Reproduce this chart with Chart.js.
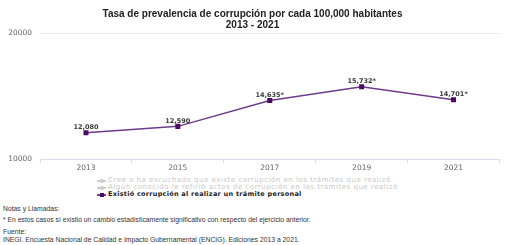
<!DOCTYPE html>
<html lang="es">
<head>
<meta charset="UTF-8">
<title>Tasa de prevalencia de corrupción</title>
<script src="https://cdn.jsdelivr.net/npm/chart.js@4.4.0/dist/chart.umd.min.js"></script>
<style>
  body { margin: 0; background: #fff; }
  .wrap { position: relative; width: 505px; height: 245px; overflow: hidden; }
  #chartBox { position: absolute; left: 0; top: 0; width: 505px; height: 174px; }
  #legend { position: absolute; left: 97px; top: 177px; font-family: "DejaVu Sans", sans-serif; font-size: 7px; line-height: 7px; letter-spacing: 0.52px; }
  #legend .item { display: flex; align-items: center; white-space: nowrap; }
  #legend .mk { position: relative; width: 9px; height: 7px; margin-right: 2px; }
  #legend .mk .ln { position: absolute; left: 0; right: 0; top: 3px; height: 1.5px; }
  #legend .mk .pt { position: absolute; left: 2.5px; top: 1.5px; width: 4.5px; height: 4.5px; }
  #legend .bold { font-weight: bold; font-size: 6.5px; letter-spacing: 0.27px; }
  .notes { position: absolute; left: 3px; font-family: "Liberation Sans", Arial, sans-serif; font-size: 6.8px; color: #333; white-space: nowrap; }
</style>
</head>
<body>
<div class="wrap">
  <div id="chartBox"><canvas id="grafica"></canvas></div>
  <div id="legend"></div>
  <div class="notes" style="top:205px">Notas y Llamadas:</div>
  <div class="notes" style="top:216px">* En estos casos sí existió un cambio estadísticamente significativo con respecto del ejercicio anterior.</div>
  <div class="notes" style="top:228px">Fuente:</div>
  <div class="notes" style="top:236px">INEGI. Encuesta Nacional de Calidad e Impacto Gubernamental (ENCIG). Ediciones 2013 a 2021.</div>
</div>
<script>
// datos
const anios = ["2013", "2015", "2017", "2019", "2021"];
const tasaTramite = [12080, 12590, 14635, 15732, 14701];
const cambioSignificativo = [false, false, true, true, true];
const seriesLeyenda = [
  "Cree o ha escuchado que existe corrupción en los trámites que realizó",
  "Algún conocido le refirió actos de corrupción en los trámites que realizó",
  "Existió corrupción al realizar un trámite personal"
];
const ticksY = [10000, 20000];

const morado = "#6e3b8c";
const moradoPunto = "#4a0d63";

// etiquetas de datos sobre cada punto
const etiquetas = {
  id: "etiquetas",
  afterDatasetsDraw(chart) {
    const ctx = chart.ctx;
    const meta = chart.getDatasetMeta(0);
    ctx.save();
    ctx.font = "bold 6.5px 'DejaVu Sans', sans-serif";
    ctx.fillStyle = "#3a3a3a";
    ctx.textAlign = "center";
    ctx.textBaseline = "bottom";
    meta.data.forEach((p, i) => {
      const v = tasaTramite[i].toLocaleString("en-US") + (cambioSignificativo[i] ? "*" : "");
      ctx.fillText(v, p.x, p.y - 2);
    });
    ctx.restore();
  }
};

new Chart(document.getElementById("grafica"), {
  type: "line",
  data: {
    labels: anios,
    datasets: [{
      label: seriesLeyenda[2],
      data: tasaTramite,
      borderColor: morado,
      borderWidth: 1.5,
      pointStyle: "rect",
      pointRadius: 2.5,
      pointBackgroundColor: moradoPunto,
      pointBorderColor: moradoPunto,
      tension: 0
    }]
  },
  options: {
    responsive: true,
    maintainAspectRatio: false,
    animation: false,
    layout: { padding: 0 },
    plugins: {
      legend: { display: false },
      tooltip: { enabled: false },
      title: {
        display: true,
        text: ["Tasa de prevalencia de corrupción por cada 100,000 habitantes", "2013 - 2021"],
        font: { family: "'Liberation Sans', Arial, sans-serif", size: 10, weight: "bold", lineHeight: 1.15 },
        color: "#222",
        padding: { top: 8, bottom: 2 }
      }
    },
    scales: {
      x: {
        offset: true,
        grid: { offset: true, drawOnChartArea: false, drawTicks: true, tickLength: 4, color: "#dcdcf0" },
        border: { color: "#dcdcf0" },
        ticks: { color: "#666", font: { family: "'DejaVu Sans', sans-serif", size: 7.5 }, padding: 1 }
      },
      y: {
        min: ticksY[0],
        max: ticksY[1],
        afterBuildTicks(scale) { scale.ticks = ticksY.map(v => ({ value: v })); },
        afterFit(scale) { scale.width = 40; },
        grid: { color: "#ececec", drawTicks: false },
        border: { display: false },
        ticks: {
          color: "#666",
          font: { family: "'DejaVu Sans', sans-serif", size: 7.5 },
          padding: 8,
          callback: v => String(v)
        }
      }
    }
  },
  plugins: [etiquetas]
});

// leyenda
const leyenda = document.getElementById("legend");
seriesLeyenda.forEach((txt, i) => {
  const activo = i === 2;
  const color = activo ? moradoPunto : "#ccc";
  const item = document.createElement("div");
  item.className = "item";
  item.innerHTML =
    '<span class="mk"><span class="ln" style="background:' + (activo ? morado : "#ccc") + '"></span>' +
    '<span class="pt" style="background:' + color + ';' + (activo ? "" : "border-radius:50%;") + '"></span></span>' +
    '<span class="' + (activo ? "bold" : "") + '" style="color:' + (activo ? "#222" : "#c8c8c8") + '">' + txt + '</span>';
  leyenda.appendChild(item);
});
</script>
</body>
</html>
